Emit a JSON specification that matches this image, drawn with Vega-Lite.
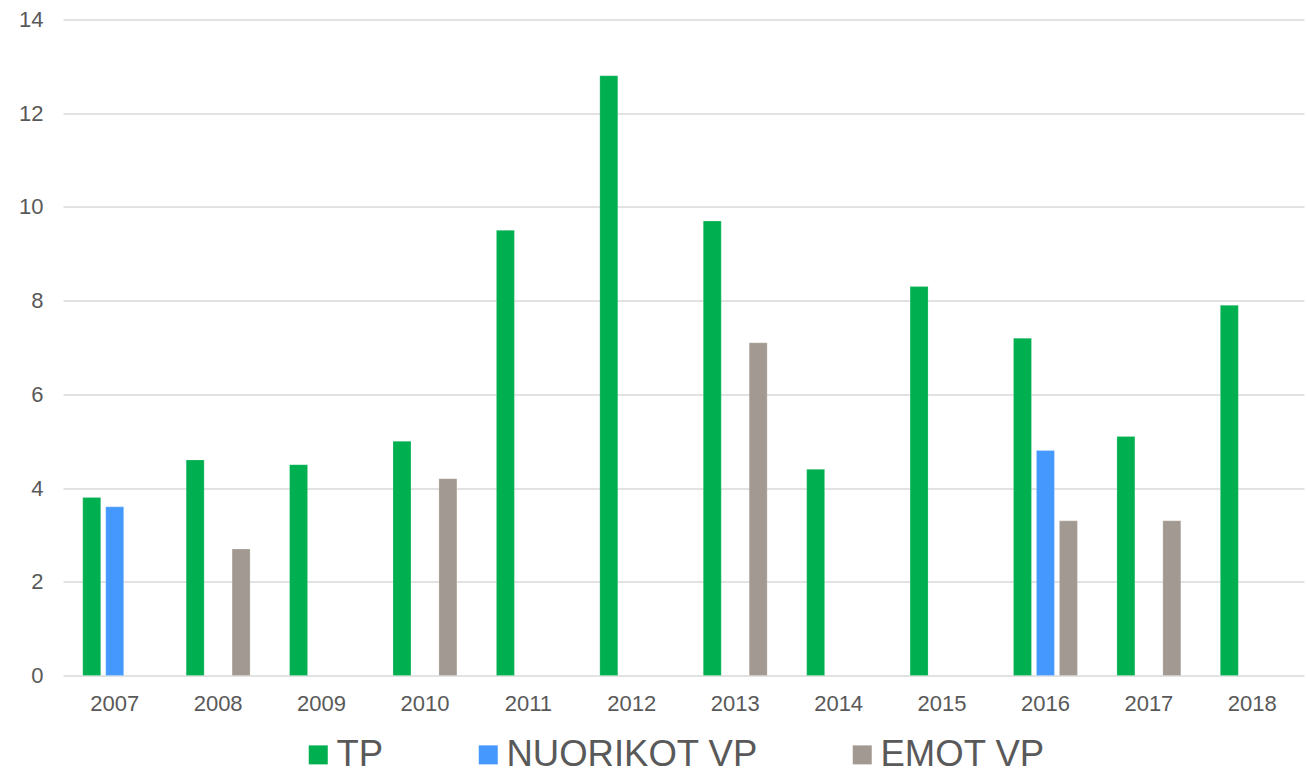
{
  "$schema": "https://vega.github.io/schema/vega-lite/v6.json",
  "width": 1241,
  "height": 656,
  "autosize": {"type": "none"},
  "padding": {"left": 63, "top": 19.5, "right": 3, "bottom": 92.5},
  "background": "white",
  "config": {
    "font": "Liberation Sans",
    "view": {"stroke": null}
  },
  "data": {
    "values": [
      {"year": "2007", "series": "TP", "value": 3.8},
      {"year": "2007", "series": "NUORIKOT VP", "value": 3.6},
      {"year": "2008", "series": "TP", "value": 4.6},
      {"year": "2008", "series": "EMOT VP", "value": 2.7},
      {"year": "2009", "series": "TP", "value": 4.5},
      {"year": "2010", "series": "TP", "value": 5.0},
      {"year": "2010", "series": "EMOT VP", "value": 4.2},
      {"year": "2011", "series": "TP", "value": 9.5},
      {"year": "2012", "series": "TP", "value": 12.8},
      {"year": "2013", "series": "TP", "value": 9.7},
      {"year": "2013", "series": "EMOT VP", "value": 7.1},
      {"year": "2014", "series": "TP", "value": 4.4},
      {"year": "2015", "series": "TP", "value": 8.3},
      {"year": "2016", "series": "TP", "value": 7.2},
      {"year": "2016", "series": "NUORIKOT VP", "value": 4.8},
      {"year": "2016", "series": "EMOT VP", "value": 3.3},
      {"year": "2017", "series": "TP", "value": 5.1},
      {"year": "2017", "series": "EMOT VP", "value": 3.3},
      {"year": "2018", "series": "TP", "value": 7.9}
    ]
  },
  "mark": {"type": "bar", "stroke": "white", "strokeOpacity": 0.4, "strokeWidth": 0.5},
  "encoding": {
    "x": {
      "field": "year",
      "type": "nominal",
      "sort": null,
      "scale": {"paddingInner": 0.382, "paddingOuter": 0.191},
      "axis": {
        "title": null,
        "labelAngle": 0,
        "domain": false,
        "ticks": false,
        "labelFontSize": 22,
        "labelColor": "#595959",
        "labelPadding": 18
      }
    },
    "xOffset": {
      "field": "series",
      "type": "nominal",
      "scale": {"domain": ["TP", "NUORIKOT VP", "EMOT VP"], "paddingInner": 0.217, "paddingOuter": 0}
    },
    "y": {
      "field": "value",
      "type": "quantitative",
      "scale": {"domain": [0, 14], "nice": false},
      "axis": {
        "title": null,
        "values": [0, 2, 4, 6, 8, 10, 12, 14],
        "domain": false,
        "ticks": false,
        "labelFontSize": 22,
        "labelColor": "#595959",
        "labelPadding": 20,
        "gridColor": "#d9d9d9",
        "gridWidth": 1.5
      }
    },
    "color": {
      "field": "series",
      "type": "nominal",
      "scale": {
        "domain": ["TP", "NUORIKOT VP", "EMOT VP"],
        "range": ["#00B050", "#4599FE", "#A29A92"]
      },
      "legend": {
        "title": null,
        "orient": "none",
        "direction": "horizontal",
        "legendX": 237,
        "legendY": 717,
        "symbolType": "square",
        "symbolSize": 361,
        "symbolStrokeWidth": 0,
        "symbolOpacity": 1,
        "labelFontSize": 36.5,
        "labelColor": "#595959",
        "labelOffset": 0,
        "columnPadding": 86,
        "labelLimit": 400
      }
    }
  }
}
